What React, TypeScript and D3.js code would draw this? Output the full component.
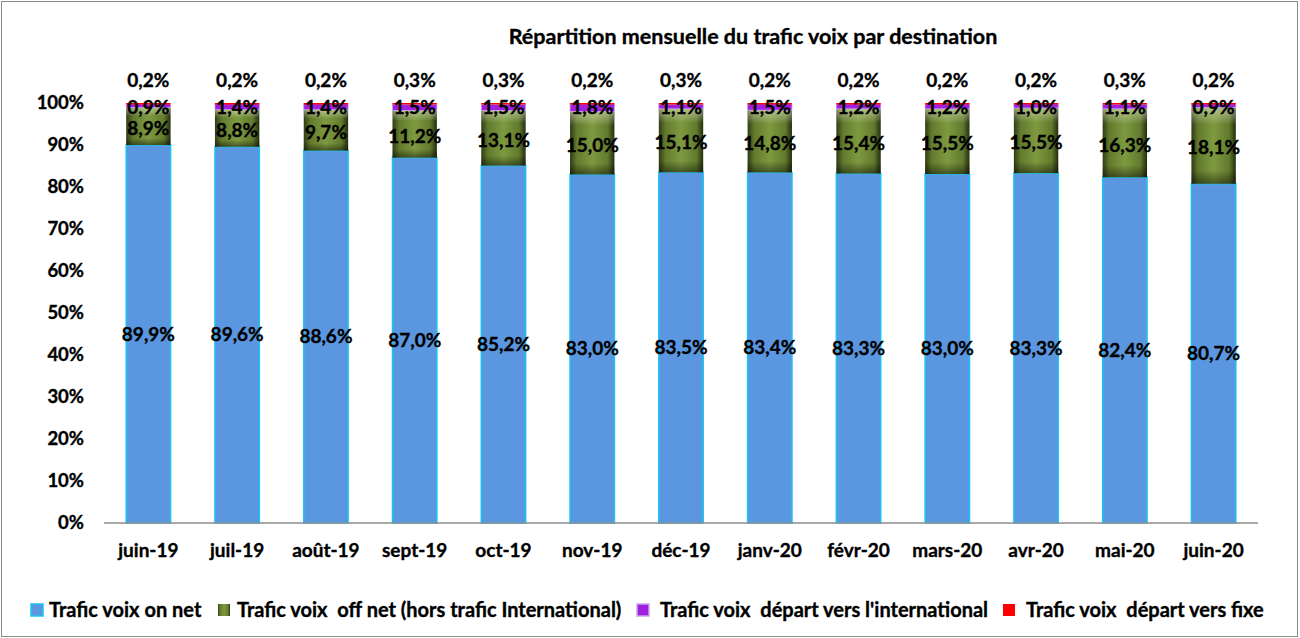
import React, { useEffect, useRef } from 'react';
import * as d3 from 'd3';

const months = ['juin-19', 'juil-19', 'août-19', 'sept-19', 'oct-19', 'nov-19', 'déc-19', 'janv-20', 'févr-20', 'mars-20', 'avr-20', 'mai-20', 'juin-20'];
const onNet = [89.9, 89.6, 88.6, 87.0, 85.2, 83.0, 83.5, 83.4, 83.3, 83.0, 83.3, 82.4, 80.7];
const offNet = [8.9, 8.8, 9.7, 11.2, 13.1, 15.0, 15.1, 14.8, 15.4, 15.5, 15.5, 16.3, 18.1];
const intl = [0.9, 1.4, 1.4, 1.5, 1.5, 1.8, 1.1, 1.5, 1.2, 1.2, 1.0, 1.1, 0.9];
const fixe = [0.2, 0.2, 0.2, 0.3, 0.3, 0.2, 0.3, 0.2, 0.2, 0.2, 0.2, 0.3, 0.2];
const seriesNames = ['Trafic voix on net', 'Trafic voix  off net (hors trafic International)', "Trafic voix  départ vers l'international", 'Trafic voix  départ vers fixe'];
const yTicks = [0, 10, 20, 30, 40, 50, 60, 70, 80, 90, 100];

const W = 1300;
const H = 638;
const font = 'Lato, "Open Sans", sans-serif';
const fmt = (v: number) => v.toFixed(1).replace('.', ',') + '%';

const App = () => {
  const ref = useRef<SVGSVGElement>(null);

  useEffect(() => {
    const svg = d3.select(ref.current);
    svg.selectAll('*').remove();

    const margin = { top: 103, left: 104, right: 42, bottom: 115 };
    const width = W - margin.left - margin.right;
    const height = H - margin.top - margin.bottom;

    const defs = svg.append('defs');
    const gh = defs.append('linearGradient').attr('id', 'olive-h').attr('x1', 0).attr('x2', 1).attr('y1', 0).attr('y2', 0);
    gh.append('stop').attr('offset', '0%').attr('stop-color', '#2f3c14');
    gh.append('stop').attr('offset', '15%').attr('stop-color', '#627a2d');
    gh.append('stop').attr('offset', '50%').attr('stop-color', '#7e9a40');
    gh.append('stop').attr('offset', '85%').attr('stop-color', '#627a2d');
    gh.append('stop').attr('offset', '100%').attr('stop-color', '#232e0e');
    const gv = defs.append('linearGradient').attr('id', 'olive-v').attr('x1', 0).attr('x2', 0).attr('y1', 0).attr('y2', 1);
    gv.append('stop').attr('offset', '0%').attr('stop-color', '#e8f0c8').attr('stop-opacity', 0.5);
    gv.append('stop').attr('offset', '22%').attr('stop-color', '#ffffff').attr('stop-opacity', 0);
    gv.append('stop').attr('offset', '82%').attr('stop-color', '#000000').attr('stop-opacity', 0);
    gv.append('stop').attr('offset', '100%').attr('stop-color', '#000000').attr('stop-opacity', 0.45);

    // outer frame
    svg.append('rect').attr('x', 1.5).attr('y', 1.5).attr('width', W - 4).attr('height', H - 3)
      .attr('fill', '#fff').attr('stroke', '#8c8c8c').attr('stroke-width', 1);

    const bold = (sel: any, size: number) => sel.attr('font-family', font).attr('font-weight', 'bold')
      .attr('font-size', size).attr('fill', '#000').attr('stroke', '#000').attr('stroke-width', 0.35);

    svg.append('text').attr('x', 753).attr('y', 44).attr('text-anchor', 'middle')
      .call(bold, 21.5)
      .text('Répartition mensuelle du trafic voix par destination');

    const g = svg.append('g').attr('transform', `translate(${margin.left},${margin.top})`);

    const x = d3.scaleBand().domain(months).range([0, width]).paddingInner(0.5).paddingOuter(0.25);
    const y = d3.scaleLinear().domain([0, 100]).range([height, 0]);

    const rows = months.map((m, i) => ({ m, onNet: onNet[i], offNet: offNet[i], intl: intl[i], fixe: fixe[i] }));
    const stack = d3.stack<any>().keys(['onNet', 'offNet', 'intl', 'fixe']).offset(d3.stackOffsetExpand);
    const layers = stack(rows);

    // y axis labels
    g.selectAll('.ytick').data(yTicks).enter().append('text')
      .attr('x', -20).attr('y', d => y(d)).attr('dy', '0.35em').attr('text-anchor', 'end')
      .call(bold, 18.5)
      .text(d => d + '%');

    const yy = (v: number) => y(v * 100);

    // on net
    g.selectAll('.on').data(layers[0]).enter().append('rect')
      .attr('x', (d: any) => x(d.data.m)!).attr('width', x.bandwidth())
      .attr('y', (d: any) => yy(d[1])).attr('height', (d: any) => yy(d[0]) - yy(d[1]))
      .attr('fill', '#5b97e0').attr('stroke', '#19c3f5').attr('stroke-width', 1.5);

    // off net (bevelled)
    const off = g.selectAll('.off').data(layers[1]).enter().append('g');
    off.append('rect')
      .attr('x', (d: any) => x(d.data.m)!).attr('width', x.bandwidth())
      .attr('y', (d: any) => yy(d[1])).attr('height', (d: any) => yy(d[0]) - yy(d[1]))
      .attr('fill', 'url(#olive-h)');
    off.append('rect')
      .attr('x', (d: any) => x(d.data.m)!).attr('width', x.bandwidth())
      .attr('y', (d: any) => yy(d[1])).attr('height', (d: any) => yy(d[0]) - yy(d[1]))
      .attr('fill', 'url(#olive-v)');

    g.selectAll('.intl').data(layers[2]).enter().append('rect')
      .attr('x', (d: any) => x(d.data.m)!).attr('width', x.bandwidth())
      .attr('y', (d: any) => yy(d[1])).attr('height', (d: any) => Math.max(yy(d[0]) - yy(d[1]), 2))
      .attr('fill', '#a21fe0').attr('stroke', '#c9a6e6').attr('stroke-width', 0.8);

    g.selectAll('.fixe').data(layers[3]).enter().append('rect')
      .attr('x', (d: any) => x(d.data.m)!).attr('width', x.bandwidth())
      .attr('y', (d: any) => yy(d[1])).attr('height', (d: any) => Math.max(yy(d[0]) - yy(d[1]), 1.5))
      .attr('fill', '#ff0000');

    // x axis line
    g.append('line').attr('x1', 0).attr('x2', width).attr('y1', height).attr('y2', height)
      .attr('stroke', '#8c8c8c').attr('stroke-width', 1.5);

    g.selectAll('.xlab').data(months).enter().append('text')
      .attr('x', d => x(d)! + x.bandwidth() / 2).attr('y', height + 34).attr('text-anchor', 'middle')
      .call(bold, 19)
      .text(d => d);

    const labelStyle = (sel: any) => sel.attr('text-anchor', 'middle').attr('dy', '0.35em').call(bold, 19);
    const cx = (d: any) => x(d.data.m)! + x.bandwidth() / 2;

    g.selectAll('.lon').data(layers[0]).enter().append('text')
      .attr('x', cx).attr('y', (d: any) => (yy(d[0]) + yy(d[1])) / 2)
      .call(labelStyle).text((d: any) => fmt(d.data.onNet));
    g.selectAll('.loff').data(layers[1]).enter().append('text')
      .attr('x', cx).attr('y', (d: any) => (yy(d[0]) + yy(d[1])) / 2 + 2)
      .call(labelStyle).text((d: any) => fmt(d.data.offNet));
    g.selectAll('.lintl').data(layers[2]).enter().append('text')
      .attr('x', cx).attr('y', (d: any) => yy(d[1]) + 3)
      .call(labelStyle).text((d: any) => fmt(d.data.intl));
    g.selectAll('.lfixe').data(layers[3]).enter().append('text')
      .attr('x', cx).attr('y', (d: any) => yy(d[1]) - 23)
      .call(labelStyle).text((d: any) => fmt(d.data.fixe));

    // legend
    const legendX = [31, 218, 637, 1003];
    const legendGap = [18, 19, 23, 23];
    const legendFill = ['#5b97e0', 'url(#olive-h)', '#a21fe0', '#ff0000'];
    const legendStroke = ['#19c3f5', 'none', '#c9a6e6', 'none'];
    const lg = svg.append('g');
    seriesNames.forEach((name, i) => {
      lg.append('rect').attr('x', legendX[i]).attr('y', 604).attr('width', 12).attr('height', 12)
        .attr('fill', legendFill[i]).attr('stroke', legendStroke[i]).attr('stroke-width', 1.5);
      lg.append('text').attr('x', legendX[i] + legendGap[i]).attr('y', 610).attr('dy', '0.35em')
        .call(bold, 20)
        .attr('xml:space', 'preserve').style('white-space', 'pre')
        .text(name);
    });
  }, []);

  return <svg ref={ref} width={W} height={H} style={{ position: 'absolute', left: 0, top: 0 }}></svg>;
};

export default App;
